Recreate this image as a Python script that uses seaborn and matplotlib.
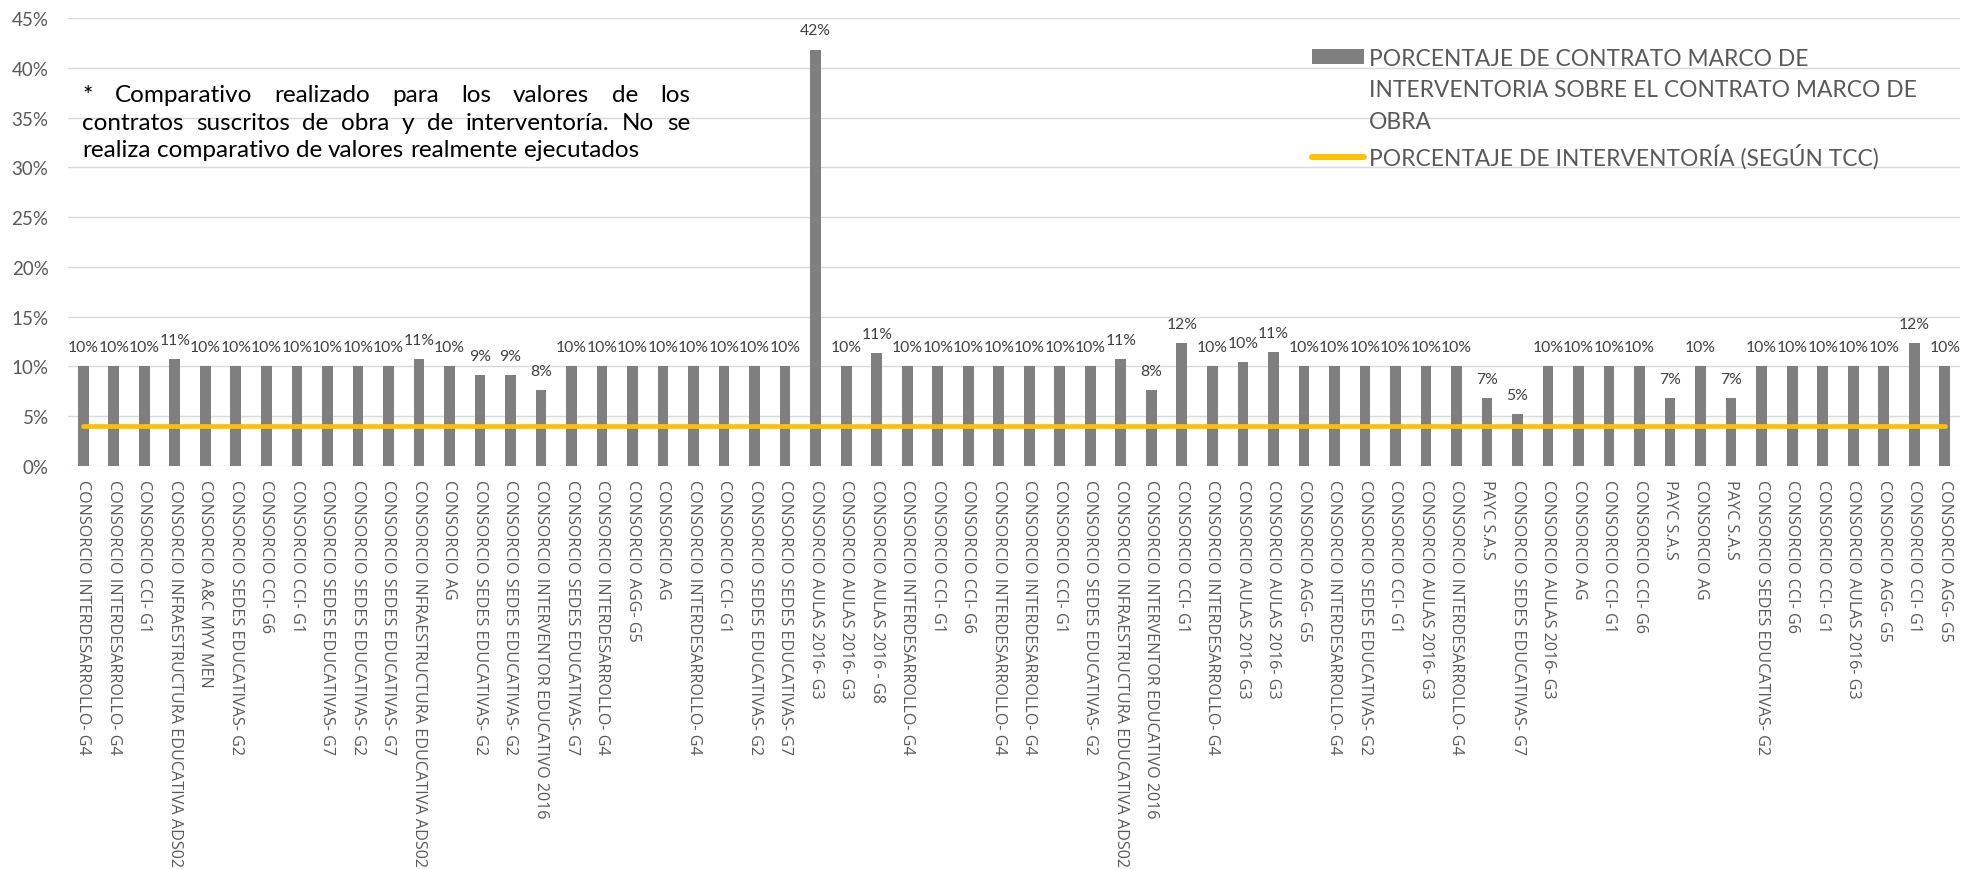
import numpy as np
import pandas as pd
import matplotlib
matplotlib.use("Agg")
import matplotlib.pyplot as plt
from matplotlib.ticker import PercentFormatter
from matplotlib.patches import Patch
from matplotlib.lines import Line2D
import seaborn as sns

# Datos
contratistas = [
    "CONSORCIO INTERDESARROLLO- G4", "CONSORCIO INTERDESARROLLO- G4", "CONSORCIO CCI- G1",
    "CONSORCIO INFRAESTRUCTURA EDUCATIVA ADS02", "CONSORCIO A&C MYV MEN", "CONSORCIO SEDES EDUCATIVAS- G2",
    "CONSORCIO CCI- G6", "CONSORCIO CCI- G1", "CONSORCIO SEDES EDUCATIVAS- G7",
    "CONSORCIO SEDES EDUCATIVAS- G2", "CONSORCIO SEDES EDUCATIVAS- G7", "CONSORCIO INFRAESTRUCTURA EDUCATIVA ADS02",
    "CONSORCIO AG", "CONSORCIO SEDES EDUCATIVAS- G2", "CONSORCIO SEDES EDUCATIVAS- G2",
    "CONSORCIO INTERVENTOR EDUCATIVO 2016", "CONSORCIO SEDES EDUCATIVAS- G7", "CONSORCIO INTERDESARROLLO- G4",
    "CONSORCIO AGG- G5", "CONSORCIO AG", "CONSORCIO INTERDESARROLLO- G4",
    "CONSORCIO CCI- G1", "CONSORCIO SEDES EDUCATIVAS- G2", "CONSORCIO SEDES EDUCATIVAS- G7",
    "CONSORCIO AULAS 2016- G3", "CONSORCIO AULAS 2016- G3", "CONSORCIO AULAS 2016 - G8",
    "CONSORCIO INTERDESARROLLO- G4", "CONSORCIO CCI- G1", "CONSORCIO CCI- G6",
    "CONSORCIO INTERDESARROLLO- G4", "CONSORCIO INTERDESARROLLO- G4", "CONSORCIO CCI- G1",
    "CONSORCIO SEDES EDUCATIVAS- G2", "CONSORCIO INFRAESTRUCTURA EDUCATIVA ADS02", "CONSORCIO INTERVENTOR EDUCATIVO 2016",
    "CONSORCIO CCI- G1", "CONSORCIO INTERDESARROLLO- G4", "CONSORCIO AULAS 2016- G3",
    "CONSORCIO AULAS 2016- G3", "CONSORCIO AGG- G5", "CONSORCIO INTERDESARROLLO- G4",
    "CONSORCIO SEDES EDUCATIVAS- G2", "CONSORCIO CCI- G1", "CONSORCIO AULAS 2016- G3",
    "CONSORCIO INTERDESARROLLO- G4", "PAYC S.A.S", "CONSORCIO SEDES EDUCATIVAS- G7",
    "CONSORCIO AULAS 2016- G3", "CONSORCIO AG", "CONSORCIO CCI- G1",
    "CONSORCIO CCI- G6", "PAYC S.A.S", "CONSORCIO AG",
    "PAYC S.A.S", "CONSORCIO SEDES EDUCATIVAS- G2", "CONSORCIO CCI- G6",
    "CONSORCIO CCI- G1", "CONSORCIO AULAS 2016- G3", "CONSORCIO AGG- G5",
    "CONSORCIO CCI- G1", "CONSORCIO AGG- G5",
]

porcentaje_interventoria = [
    0.100, 0.100, 0.100, 0.107, 0.100, 0.100, 0.100, 0.100, 0.100, 0.100,
    0.100, 0.107, 0.100, 0.091, 0.091, 0.076, 0.100, 0.100, 0.100, 0.100,
    0.100, 0.100, 0.100, 0.100, 0.4185, 0.100, 0.113, 0.100, 0.100, 0.100,
    0.100, 0.100, 0.100, 0.100, 0.107, 0.076, 0.123, 0.100, 0.104, 0.114,
    0.100, 0.100, 0.100, 0.100, 0.100, 0.100, 0.068, 0.052, 0.100, 0.100,
    0.100, 0.100, 0.068, 0.100, 0.068, 0.100, 0.100, 0.100, 0.100, 0.100,
    0.123, 0.100,
]

porcentaje_tcc = 0.04

leyenda_barras = ["PORCENTAJE DE CONTRATO MARCO DE",
                  "INTERVENTORIA SOBRE EL CONTRATO MARCO DE",
                  "OBRA"]
leyenda_linea = "PORCENTAJE DE INTERVENTORÍA (SEGÚN TCC)"

nota_lineas = ["* Comparativo realizado para los valores de los",
               "contratos suscritos de obra y de interventoría. No se",
               "realiza comparativo de valores realmente ejecutados"]

y_ticks = [0, 0.05, 0.10, 0.15, 0.20, 0.25, 0.30, 0.35, 0.40, 0.45]

df = pd.DataFrame({
    "pos": range(len(contratistas)),
    "contratista": contratistas,
    "valor": porcentaje_interventoria,
    "tcc": [porcentaje_tcc] * len(contratistas),
})

sns.set_theme(style="white")
plt.rcParams["font.family"] = ["Lato", "DejaVu Sans"]

W, H = 1963, 870
fig = plt.figure(figsize=(W / 100, H / 100), dpi=100)
ax = fig.add_axes([68 / W, 1 - 466.7 / H, (1960 - 68) / W, (466.7 - 19.3) / H])

# Barras y linea de referencia
sns.barplot(data=df, x="pos", y="valor", color="#7F7F7F", saturation=1,
            width=0.35, linewidth=0, ax=ax, zorder=2)
sns.lineplot(data=df, x="pos", y="tcc", color="#FFC000", linewidth=3.4,
             solid_capstyle="round", ax=ax, zorder=3)

# Etiquetas de datos
for x, v in zip(df["pos"], df["valor"]):
    ax.annotate(f"{v:.0%}", (x, v), xytext=(0, 11), textcoords="offset points",
                ha="center", va="baseline", fontsize=11.3, color="#404040")

ax.set_ylim(0, 0.45)
ax.set_xlim(-0.5, len(contratistas) - 0.5)
ax.set_yticks(y_ticks)
ax.yaxis.set_major_formatter(PercentFormatter(1.0, decimals=0))
ax.set_xticks(df["pos"])
ax.set_xticklabels(contratistas, rotation=-90, ha="center", va="top",
                   fontfamily=["Open Sans", "DejaVu Sans"], fontsize=11.6, color="#595959")
ax.tick_params(axis="x", length=0, pad=9.6)
ax.tick_params(axis="y", length=0, pad=14, labelsize=13.5, labelcolor="#595959")
ax.set_xlabel("")
ax.set_ylabel("")
ax.set_axisbelow(True)
ax.yaxis.grid(True, color="#D9D9D9", linewidth=1.0)
ax.xaxis.grid(False)
sns.despine(ax=ax, left=True, bottom=True)

# Leyenda
handles = [Patch(facecolor="#7F7F7F", edgecolor="none"),
           Line2D([], [], color="none"),
           Line2D([], [], color="none"),
           Line2D([], [], color="#FFC000", linewidth=4.3, solid_capstyle="round")]
fig.legend(handles, leyenda_barras + [leyenda_linea], loc="upper left",
           bbox_to_anchor=(1311.7 / W, 1 - 48.5 / H), frameon=False, fontsize=16.4,
           handlelength=2.3, handleheight=0.63, handletextpad=0.23, labelspacing=0.48,
           borderpad=0, borderaxespad=0, labelcolor="#595959")

# Nota justificada
renderer = fig.canvas.get_renderer()
nota_x0, nota_x1 = 82, 690
nota_base = [101.7, 130, 156.7]
for i, (linea, yb) in enumerate(zip(nota_lineas, nota_base)):
    palabras = linea.split()
    textos = [fig.text(0, 1 - yb / H, p, fontsize=17.5, va="baseline", ha="left", color="black")
              for p in palabras]
    anchos = [t.get_window_extent(renderer).width for t in textos]
    if i < len(nota_lineas) - 1:
        hueco = (nota_x1 - nota_x0 - sum(anchos)) / (len(palabras) - 1)
    else:
        hueco = 0.25 * 17.5 * 100 / 72
    x = nota_x0
    for t, a in zip(textos, anchos):
        t.set_x(x / W)
        x += a + hueco

fig.savefig("out.png", dpi=100)
